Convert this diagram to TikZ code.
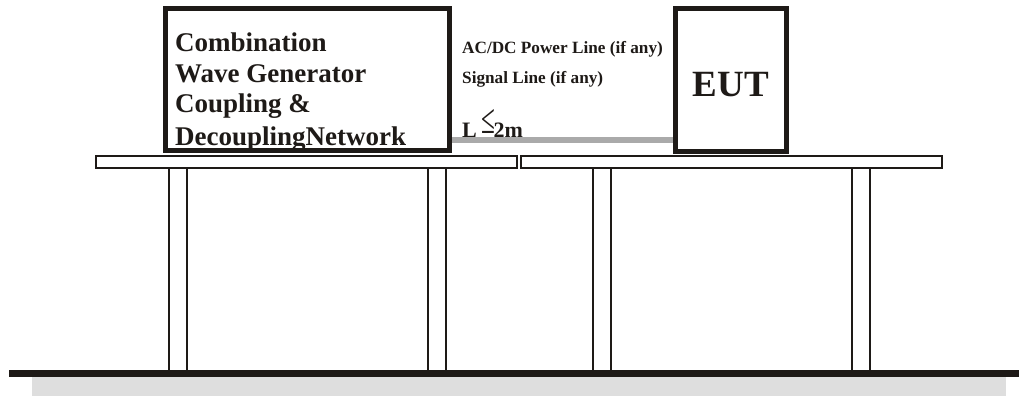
\documentclass[tikz,border=0pt]{standalone}
\usepackage{fontspec}
\setmainfont{Liberation Serif}
\usetikzlibrary{calc}
\definecolor{ink}{RGB}{30,26,23}
\definecolor{cablegray}{RGB}{170,170,170}
\definecolor{floorgray}{RGB}{222,222,222}
\newcommand{\pxsize}[1]{\fontsize{#1}{#1}\selectfont}

\begin{document}
\begin{tikzpicture}[
  x=1pt, y=-1pt,
  every node/.style={inner sep=0pt, text=ink},
  unitbox/.style={rectangle, draw=ink, line width=5pt, fill=white},
  tabletop/.style={rectangle, draw=ink, line width=2pt, fill=white,
    minimum width=421pt, minimum height=12pt},
  leg/.style={draw=ink, line width=2.2pt},
  cable/.style={draw=cablegray, line width=5.5pt},
  cwgtext/.style={font=\bfseries\pxsize{27}, anchor=base west},
  linetext/.style={font=\bfseries\pxsize{17.2}, anchor=base west}
]
\useasboundingbox (0,0) rectangle (1019,396);

% ====== FLOOR ======
\fill[floorgray] (32,377) rectangle (1006,396);
\fill[ink] (9,370) rectangle (1019,377);

% ====== TABLES ======
\foreach \xa in {169,428,593,852}{
  \draw[leg] (\xa,168) -- (\xa,370) (\xa+18,168) -- (\xa+18,370);
}
\node[tabletop] (tableL) at (306.5,162) {};
\node[tabletop] (tableR) at (731.5,162) {};

% ====== GENERATOR AND EUT ======
\node[unitbox, minimum width=284pt, minimum height=142pt] (cwg) at (307.5,79.5) {};
\foreach \txt/\yy [count=\i] in {Combination/52, Wave Generator/82,
    Coupling \&/112, DecouplingNetwork/145}{
  \node[cwgtext] (cwgline\i) at (175,\yy) {\txt};
}

\node[unitbox, minimum width=111pt, minimum height=143pt] (eut) at (731,80) {};
\node[font=\bfseries\pxsize{37}, anchor=base] (eutlabel) at (eut.center |- 0,96) {EUT};

% ====== CABLE ======
\draw[cable] (cwg.east |- 0,140) -- (eut.west |- 0,140);

\node[linetext] (powerline) at (462,53) {AC/DC Power Line (if any)};
\node[linetext] (signalline) at (462,83) {Signal Line (if any)};
\node[font=\bfseries\pxsize{22}, anchor=base west] (lenlabel) at (462,137)
  {L\hspace{5pt}\raisebox{4pt}{\scalebox{0.9}[1.5]{\mdseries\pxsize{28}≤}}\hspace{-2pt}2m};

\end{tikzpicture}
\end{document}
